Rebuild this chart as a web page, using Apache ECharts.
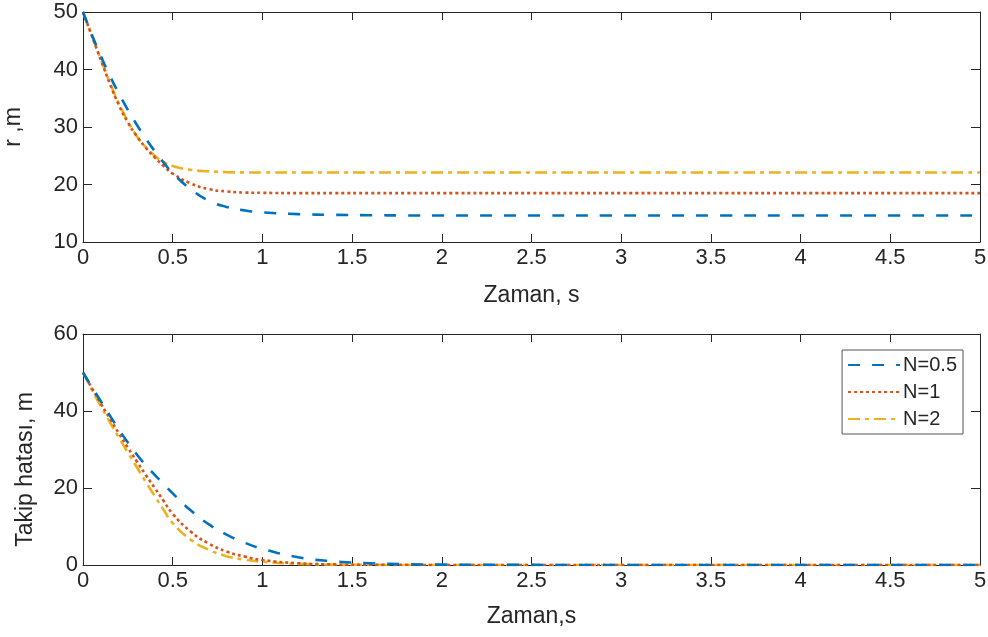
<!DOCTYPE html>
<html>
<head>
<meta charset="utf-8">
<script src="https://cdn.jsdelivr.net/npm/echarts@6/dist/echarts.min.js"></script>
<style>
html,body{margin:0;padding:0;background:#fff;}
#chart{width:988px;height:637px;}
</style>
</head>
<body>
<div id="chart"></div>
<script>
// ---- data ----
const timeS = [0,0.05,0.1,0.15,0.2,0.25,0.3,0.35,0.4,0.45,0.5,0.6,0.7,0.8,0.9,1.0,1.2,1.4,1.6,1.8,2.0,2.5,3.0,3.5,4.0,4.5,5.0];
const seriesNames = ['N=0.5','N=1','N=2'];
// top panel: r, m
const rN05 = [50,46.0,42.3,38.9,35.8,33.0,30.4,28.0,25.8,23.8,22.0,19.2,17.2,16.1,15.5,15.15,14.85,14.72,14.66,14.62,14.6,14.6,14.6,14.6,14.6,14.6,14.6];
const rN1  = [50,45.8,41.6,37.5,33.8,30.8,28.4,26.4,24.7,23.2,21.9,20.2,19.2,18.8,18.6,18.55,18.5,18.5,18.5,18.5,18.5,18.5,18.5,18.5,18.5,18.5,18.5];
const rN2  = [50,45.8,41.7,37.7,34.1,31.0,28.4,26.5,25.0,23.9,23.2,22.55,22.3,22.15,22.1,22.1,22.1,22.1,22.1,22.1,22.1,22.1,22.1,22.1,22.1,22.1,22.1];
// bottom panel: Takip hatası, m
const eN05 = [50,46.2,42.5,38.8,35.2,31.8,28.7,25.9,23.4,21.0,18.6,14.2,10.6,7.9,5.8,4.2,2.0,0.95,0.45,0.2,0.1,0.02,0,0,0,0,0];
const eN1  = [50,45.9,41.9,38.0,34.2,30.5,26.9,23.4,20.0,16.6,13.3,8.7,5.6,3.5,2.2,1.3,0.45,0.15,0.05,0.02,0,0,0,0,0,0,0];
const eN2  = [50,45.5,41.2,37.1,33.1,29.2,25.4,21.6,17.9,14.3,10.9,6.6,4.0,2.3,1.4,0.85,0.3,0.1,0.03,0,0,0,0,0,0,0,0];
const xTicksMax = 5, xInterval = 0.5;

// ---- styling ----
const FONT = '"Liberation Sans", Arial, sans-serif';
const AX = '#262626';
const colors = ['#0072BD','#D95319','#EDB120'];
const dashes = [[12,12],[3,3],[12,5,4,5]];

function pairs(ys){ return timeS.map((t,i)=>[t, ys[i]]); }

function xAxisPair(gi, name, gap){
  return [
    {gridIndex:gi, type:'value', min:0, max:xTicksMax, interval:xInterval, position:'bottom',
     name:name, nameLocation:'middle', nameGap:gap,
     nameTextStyle:{fontFamily:FONT, fontSize:23, color:AX},
     axisLine:{show:true, onZero:false, lineStyle:{color:AX, width:1}},
     axisTick:{show:true, inside:true, length:8, lineStyle:{color:AX}},
     axisLabel:{fontFamily:FONT, fontSize:22, color:AX, margin:5},
     splitLine:{show:false}},
    {gridIndex:gi, type:'value', min:0, max:xTicksMax, interval:xInterval, position:'top',
     axisLine:{show:true, onZero:false, lineStyle:{color:AX, width:1}},
     axisTick:{show:true, inside:true, length:8, lineStyle:{color:AX}},
     axisLabel:{show:false}, splitLine:{show:false}}
  ];
}
function yAxisPair(gi, min, max, interval, name, gap, pad){
  return [
    {gridIndex:gi, type:'value', min:min, max:max, interval:interval, position:'left',
     name:name, nameLocation:'middle', nameGap:gap,
     nameTextStyle:{fontFamily:FONT, fontSize:23, color:AX, padding:pad},
     axisLine:{show:true, onZero:false, lineStyle:{color:AX, width:1}},
     axisTick:{show:true, inside:true, length:9, lineStyle:{color:AX}},
     axisLabel:{fontFamily:FONT, fontSize:22, color:AX, margin:5},
     splitLine:{show:false}},
    {gridIndex:gi, type:'value', min:min, max:max, interval:interval, position:'right',
     axisLine:{show:true, onZero:false, lineStyle:{color:AX, width:1}},
     axisTick:{show:true, inside:true, length:9, lineStyle:{color:AX}},
     axisLabel:{show:false}, splitLine:{show:false}}
  ];
}
function lineSeries(idx, gi, ys){
  return {
    name: seriesNames[idx], type:'line', xAxisIndex: gi*2, yAxisIndex: gi*2,
    data: pairs(ys), showSymbol:false, symbol:'none', smooth:0.5,
    lineStyle:{color:colors[idx], width:2.6, type:dashes[idx]},
    itemStyle:{color:colors[idx]}, animation:false, z: 3 - idx
  };
}

const chart = echarts.init(document.getElementById('chart'));
chart.setOption({
  animation:false,
  backgroundColor:'#fff',
  grid:[
    {left:83, top:12, width:897, height:230, containLabel:false, outerBoundsMode:'none'},
    {left:83, top:334, width:897, height:231, containLabel:false, outerBoundsMode:'none'}
  ],
  xAxis: [...xAxisPair(0,'Zaman, s',42), ...xAxisPair(1,'Zaman,s',40)],
  yAxis: [...yAxisPair(0,10,50,10,'r ,m',58,[0,0,0,0]), ...yAxisPair(1,0,60,20,'Takip hatası, m',46,[0,40,0,0])],
  legend:{
    data: seriesNames, orient:'vertical', right:25, top:350,
    backgroundColor:'#fff', borderColor:'#555', borderWidth:1, borderRadius:0,
    padding:[5,6,5,5], itemWidth:52, itemHeight:18, itemGap:7,
    itemStyle:{color:'rgba(0,0,0,0)', borderWidth:0, opacity:0},
    textStyle:{fontFamily:FONT, fontSize:20, color:AX, padding:[0,0,0,-2]}
  },
  series:[
    lineSeries(0,0,rN05), lineSeries(1,0,rN1), lineSeries(2,0,rN2),
    lineSeries(0,1,eN05), lineSeries(1,1,eN1), lineSeries(2,1,eN2)
  ]
});
</script>
</body>
</html>
